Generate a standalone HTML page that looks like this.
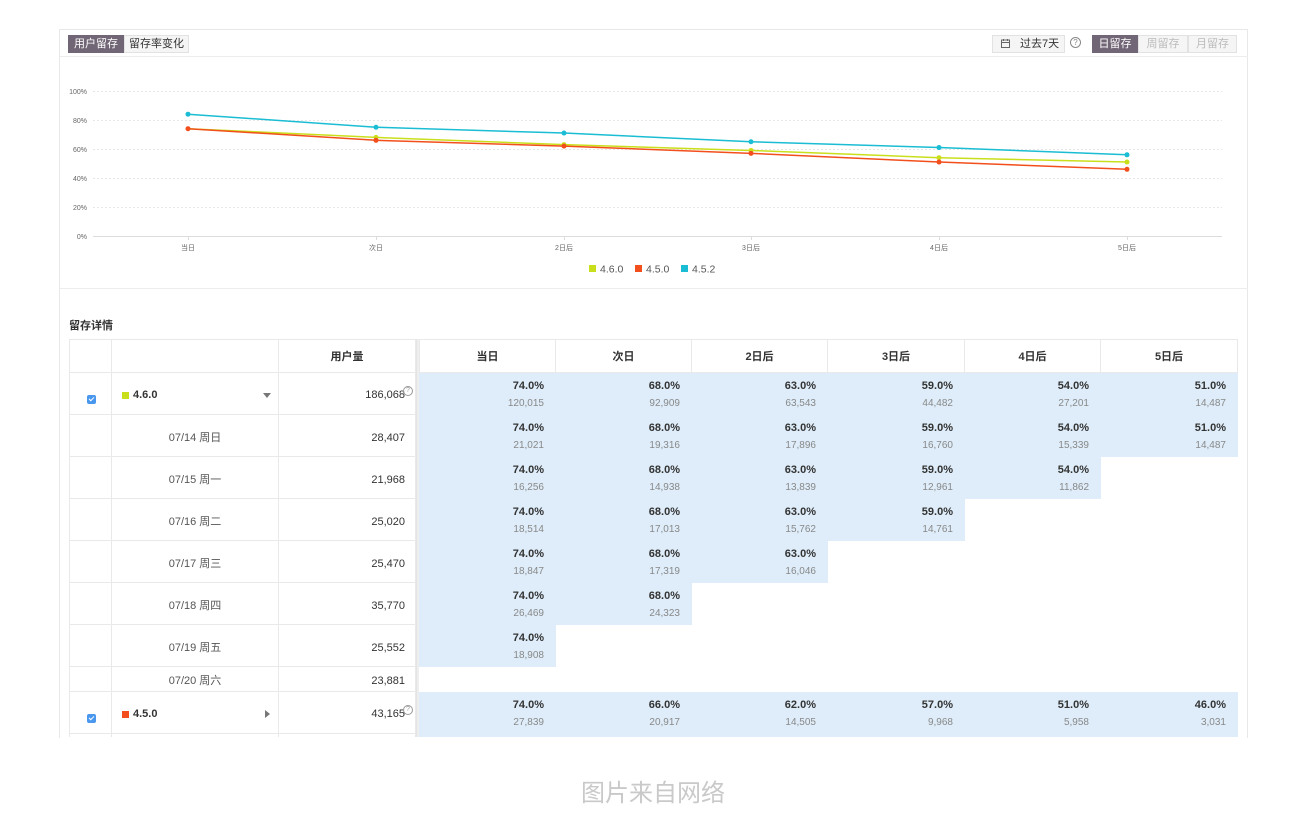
<!DOCTYPE html>
<html><head><meta charset="utf-8">
<style>
*{margin:0;padding:0;box-sizing:border-box}
body{width:1302px;height:815px;background:#fff;position:relative;overflow:hidden;font-family:"Liberation Sans","Noto Sans CJK SC",sans-serif;color:#333}
.a{position:absolute}
.btn{position:absolute;top:35px;height:18px;font-size:11px;line-height:17px;text-align:center;border:1px solid #e2e2e2;background:#f5f5f5;color:#333}
.on{background:#716675;border-color:#716675;color:#fff}
.gr{color:#bbb}
.L{position:absolute;border-right:1px solid #e9e9e9;border-bottom:1px solid #e9e9e9;font-size:11px;color:#333}
.h{position:absolute;top:339px;height:34px;border-right:1px solid #e9e9e9;border-bottom:1px solid #e9e9e9;border-top:1px solid #e9e9e9;font-size:11px;font-weight:bold;line-height:34px;text-align:center;color:#333}
.d{position:absolute;height:42px;background:#deedf9}
.d b{position:absolute;right:12px;top:6px;font-size:11px;line-height:14px;font-weight:bold;color:#333}
.d i{position:absolute;right:12px;top:24px;font-size:10px;line-height:14px;font-style:normal;color:#888}
.num{position:absolute;right:10px;font-size:11px;color:#333}
.dt{position:absolute;left:0;width:100%;text-align:center;font-size:11px;color:#555}
.q{position:absolute;width:10px;height:10px;border:1px solid #999;border-radius:50%;font-size:7px;line-height:8px;text-align:center;color:#999}
.cb{position:absolute;left:18px;width:9px;height:9px;background:#4a97ee;border-radius:2px}
.cb:after{content:"";position:absolute;left:2px;top:2px;width:4px;height:2px;border-left:1px solid #fff;border-bottom:1px solid #fff;transform:rotate(-45deg)}
</style></head><body>

<div class="a" style="left:59px;top:29px;width:1189px;height:709px;border:1px solid #e8e8e8;border-bottom:none"></div>
<div class="a" style="left:59px;top:56px;width:1189px;height:1px;background:#ececec"></div>
<div class="a" style="left:59px;top:288px;width:1189px;height:1px;background:#ececec"></div>

<div class="btn on" style="left:68px;width:56px">用户留存</div>
<div class="btn" style="left:124px;width:65px">留存率变化</div>

<div class="btn" style="left:992px;width:73px;text-align:left;padding-left:27px">过去7天</div>
<svg class="a" style="left:1000px;top:38px" width="11" height="11" viewBox="0 0 11 11"><rect x="1.5" y="2" width="8" height="7.5" fill="none" stroke="#666" stroke-width="1"/><line x1="1.5" y1="4.5" x2="9.5" y2="4.5" stroke="#666"/><line x1="3.5" y1="1" x2="3.5" y2="3" stroke="#666"/><line x1="7.5" y1="1" x2="7.5" y2="3" stroke="#666"/></svg>
<div class="q" style="left:1070px;top:37px;width:11px;height:11px;line-height:9px;font-size:8px;color:#888;border-color:#888">?</div>
<div class="btn on" style="left:1092px;width:46px">日留存</div>
<div class="btn gr" style="left:1138px;width:50px">周留存</div>
<div class="btn gr" style="left:1188px;width:49px">月留存</div>

<svg class="a" style="left:0;top:0" width="1302" height="290">
<g stroke="#e6e6e6" stroke-width="1" stroke-dasharray="2,2">
<line x1="93" y1="91.5" x2="1222" y2="91.5"/>
<line x1="93" y1="120.5" x2="1222" y2="120.5"/>
<line x1="93" y1="149.5" x2="1222" y2="149.5"/>
<line x1="93" y1="178.5" x2="1222" y2="178.5"/>
<line x1="93" y1="207.5" x2="1222" y2="207.5"/>
</g>
<line x1="93" y1="236.5" x2="1222" y2="236.5" stroke="#dcdcdc"/>
<g stroke="#dcdcdc"><line x1="188.5" y1="236" x2="188.5" y2="240"/><line x1="376.5" y1="236" x2="376.5" y2="240"/><line x1="564.5" y1="236" x2="564.5" y2="240"/><line x1="751.5" y1="236" x2="751.5" y2="240"/><line x1="939.5" y1="236" x2="939.5" y2="240"/><line x1="1127.5" y1="236" x2="1127.5" y2="240"/></g>
<g font-family="Liberation Sans, Noto Sans CJK SC, sans-serif" font-size="7" fill="#666" text-anchor="end">
<text x="87" y="94">100%</text><text x="87" y="123">80%</text><text x="87" y="152">60%</text><text x="87" y="181">40%</text><text x="87" y="210">20%</text><text x="87" y="239">0%</text>
</g>
<g font-family="Liberation Sans, Noto Sans CJK SC, sans-serif" font-size="7" fill="#666" text-anchor="middle">
<text x="188" y="250">当日</text><text x="376" y="250">次日</text><text x="564" y="250">2日后</text><text x="751" y="250">3日后</text><text x="939" y="250">4日后</text><text x="1127" y="250">5日后</text>
</g>
<polyline fill="none" stroke="#cadf1b" stroke-width="1.5" points="188,128.7 376,137.4 564,144.65 751,150.45 939,157.7 1127,162.05"/>
<polyline fill="none" stroke="#f24f1c" stroke-width="1.5" points="188,128.7 376,140.3 564,146.1 751,153.35 939,162.05 1127,169.3"/>
<polyline fill="none" stroke="#1abdd3" stroke-width="1.5" points="188,114.2 376,127.25 564,133.05 751,141.75 939,147.55 1127,154.8"/>
<g fill="#cadf1b"><circle cx="376" cy="137.4" r="2.5"/><circle cx="564" cy="144.65" r="2.5"/><circle cx="751" cy="150.45" r="2.5"/><circle cx="939" cy="157.7" r="2.5"/><circle cx="1127" cy="162.05" r="2.5"/></g>
<g fill="#f24f1c"><circle cx="188" cy="128.7" r="2.5"/><circle cx="376" cy="140.3" r="2.5"/><circle cx="564" cy="146.1" r="2.5"/><circle cx="751" cy="153.35" r="2.5"/><circle cx="939" cy="162.05" r="2.5"/><circle cx="1127" cy="169.3" r="2.5"/></g>
<g fill="#1abdd3"><circle cx="188" cy="114.2" r="2.5"/><circle cx="376" cy="127.25" r="2.5"/><circle cx="564" cy="133.05" r="2.5"/><circle cx="751" cy="141.75" r="2.5"/><circle cx="939" cy="147.55" r="2.5"/><circle cx="1127" cy="154.8" r="2.5"/></g>
<rect x="589" y="265" width="7" height="7" fill="#cadf1b"/>
<rect x="635" y="265" width="7" height="7" fill="#f24f1c"/>
<rect x="681" y="265" width="7" height="7" fill="#1abdd3"/>
<g font-family="Liberation Sans, sans-serif" font-size="10.5" fill="#555">
<text x="600" y="272.5">4.6.0</text><text x="646" y="272.5">4.5.0</text><text x="692" y="272.5">4.5.2</text>
</g>
</svg>

<div class="a" style="left:69px;top:319px;font-size:11px;font-weight:bold;color:#333;line-height:14px">留存详情</div>

<div class="a" style="left:0;top:0;width:1302px;height:737px;overflow:hidden">
<div class="a" style="left:69px;top:339px;width:1px;height:400px;background:#e9e9e9"></div>
<div class="a" style="left:416px;top:339px;width:3px;height:400px;background:#eeeeee;border-left:1px solid #e4e4e4"></div>

<div class="h" style="left:69px;width:43px;border-left:1px solid #e9e9e9"></div>
<div class="h" style="left:112px;width:167px"></div>
<div class="h" style="left:279px;width:137px">用户量</div>
<div class="h" style="left:419px;width:137px;border-left:1px solid #e9e9e9">当日</div>
<div class="h" style="left:556px;width:136px">次日</div>
<div class="h" style="left:692px;width:136px">2日后</div>
<div class="h" style="left:828px;width:137px">3日后</div>
<div class="h" style="left:965px;width:136px">4日后</div>
<div class="h" style="left:1101px;width:137px">5日后</div>

<div class="L" style="left:69px;top:373px;width:43px;height:42px"><div class="cb" style="top:22px"></div></div>
<div class="L" style="left:112px;top:373px;width:167px;height:42px">
<div class="a" style="left:10px;top:19px;width:7px;height:7px;background:#cadf1b"></div>
<div class="a" style="left:21px;top:15px;font-weight:bold;font-size:11px;line-height:14px">4.6.0</div>
<div class="a" style="left:151px;top:20px;width:0;height:0;border-left:4px solid transparent;border-right:4px solid transparent;border-top:5px solid #777"></div>
</div>
<div class="L" style="left:279px;top:373px;width:137px;height:42px"><div class="num" style="right:10px;top:15px;line-height:14px">186,068</div><div class="q" style="left:124px;top:13px">?</div></div>

<div class="L" style="left:69px;top:415px;width:43px;height:42px"></div>
<div class="L" style="left:112px;top:415px;width:167px;height:42px"><div class="dt" style="top:16px;line-height:14px">07/14 周日</div></div>
<div class="L" style="left:279px;top:415px;width:137px;height:42px"><div class="num" style="top:16px;line-height:14px">28,407</div></div>

<div class="L" style="left:69px;top:457px;width:43px;height:42px"></div>
<div class="L" style="left:112px;top:457px;width:167px;height:42px"><div class="dt" style="top:16px;line-height:14px">07/15 周一</div></div>
<div class="L" style="left:279px;top:457px;width:137px;height:42px"><div class="num" style="top:16px;line-height:14px">21,968</div></div>

<div class="L" style="left:69px;top:499px;width:43px;height:42px"></div>
<div class="L" style="left:112px;top:499px;width:167px;height:42px"><div class="dt" style="top:16px;line-height:14px">07/16 周二</div></div>
<div class="L" style="left:279px;top:499px;width:137px;height:42px"><div class="num" style="top:16px;line-height:14px">25,020</div></div>

<div class="L" style="left:69px;top:541px;width:43px;height:42px"></div>
<div class="L" style="left:112px;top:541px;width:167px;height:42px"><div class="dt" style="top:16px;line-height:14px">07/17 周三</div></div>
<div class="L" style="left:279px;top:541px;width:137px;height:42px"><div class="num" style="top:16px;line-height:14px">25,470</div></div>

<div class="L" style="left:69px;top:583px;width:43px;height:42px"></div>
<div class="L" style="left:112px;top:583px;width:167px;height:42px"><div class="dt" style="top:16px;line-height:14px">07/18 周四</div></div>
<div class="L" style="left:279px;top:583px;width:137px;height:42px"><div class="num" style="top:16px;line-height:14px">35,770</div></div>

<div class="L" style="left:69px;top:625px;width:43px;height:42px"></div>
<div class="L" style="left:112px;top:625px;width:167px;height:42px"><div class="dt" style="top:16px;line-height:14px">07/19 周五</div></div>
<div class="L" style="left:279px;top:625px;width:137px;height:42px"><div class="num" style="top:16px;line-height:14px">25,552</div></div>

<div class="L" style="left:69px;top:667px;width:43px;height:25px"></div>
<div class="L" style="left:112px;top:667px;width:167px;height:25px"><div class="dt" style="top:7px;line-height:14px">07/20 周六</div></div>
<div class="L" style="left:279px;top:667px;width:137px;height:25px"><div class="num" style="top:7px;line-height:14px">23,881</div></div>

<div class="L" style="left:69px;top:692px;width:43px;height:42px"><div class="cb" style="top:22px"></div></div>
<div class="L" style="left:112px;top:692px;width:167px;height:42px">
<div class="a" style="left:10px;top:19px;width:7px;height:7px;background:#f24f1c"></div>
<div class="a" style="left:21px;top:15px;font-weight:bold;font-size:11px;line-height:14px">4.5.0</div>
<div class="a" style="left:153px;top:18px;width:0;height:0;border-top:4px solid transparent;border-bottom:4px solid transparent;border-left:5px solid #777"></div>
</div>
<div class="L" style="left:279px;top:692px;width:137px;height:42px"><div class="num" style="top:15px;line-height:14px">43,165</div><div class="q" style="left:124px;top:13px">?</div></div>
<div class="L" style="left:69px;top:734px;width:43px;height:42px"></div>
<div class="L" style="left:112px;top:734px;width:167px;height:42px"></div>
<div class="L" style="left:279px;top:734px;width:137px;height:42px"></div>

<div class="d" style="left:419px;top:373px;width:137px"><b>74.0%</b><i>120,015</i></div>
<div class="d" style="left:556px;top:373px;width:136px"><b>68.0%</b><i>92,909</i></div>
<div class="d" style="left:692px;top:373px;width:136px"><b>63.0%</b><i>63,543</i></div>
<div class="d" style="left:828px;top:373px;width:137px"><b>59.0%</b><i>44,482</i></div>
<div class="d" style="left:965px;top:373px;width:136px"><b>54.0%</b><i>27,201</i></div>
<div class="d" style="left:1101px;top:373px;width:137px"><b>51.0%</b><i>14,487</i></div>
<div class="d" style="left:419px;top:415px;width:137px"><b>74.0%</b><i>21,021</i></div>
<div class="d" style="left:556px;top:415px;width:136px"><b>68.0%</b><i>19,316</i></div>
<div class="d" style="left:692px;top:415px;width:136px"><b>63.0%</b><i>17,896</i></div>
<div class="d" style="left:828px;top:415px;width:137px"><b>59.0%</b><i>16,760</i></div>
<div class="d" style="left:965px;top:415px;width:136px"><b>54.0%</b><i>15,339</i></div>
<div class="d" style="left:1101px;top:415px;width:137px"><b>51.0%</b><i>14,487</i></div>
<div class="d" style="left:419px;top:457px;width:137px"><b>74.0%</b><i>16,256</i></div>
<div class="d" style="left:556px;top:457px;width:136px"><b>68.0%</b><i>14,938</i></div>
<div class="d" style="left:692px;top:457px;width:136px"><b>63.0%</b><i>13,839</i></div>
<div class="d" style="left:828px;top:457px;width:137px"><b>59.0%</b><i>12,961</i></div>
<div class="d" style="left:965px;top:457px;width:136px"><b>54.0%</b><i>11,862</i></div>
<div class="d" style="left:419px;top:499px;width:137px"><b>74.0%</b><i>18,514</i></div>
<div class="d" style="left:556px;top:499px;width:136px"><b>68.0%</b><i>17,013</i></div>
<div class="d" style="left:692px;top:499px;width:136px"><b>63.0%</b><i>15,762</i></div>
<div class="d" style="left:828px;top:499px;width:137px"><b>59.0%</b><i>14,761</i></div>
<div class="d" style="left:419px;top:541px;width:137px"><b>74.0%</b><i>18,847</i></div>
<div class="d" style="left:556px;top:541px;width:136px"><b>68.0%</b><i>17,319</i></div>
<div class="d" style="left:692px;top:541px;width:136px"><b>63.0%</b><i>16,046</i></div>
<div class="d" style="left:419px;top:583px;width:137px"><b>74.0%</b><i>26,469</i></div>
<div class="d" style="left:556px;top:583px;width:136px"><b>68.0%</b><i>24,323</i></div>
<div class="d" style="left:419px;top:625px;width:137px"><b>74.0%</b><i>18,908</i></div>
<div class="d" style="left:419px;top:692px;width:137px"><b>74.0%</b><i>27,839</i></div>
<div class="d" style="left:556px;top:692px;width:136px"><b>66.0%</b><i>20,917</i></div>
<div class="d" style="left:692px;top:692px;width:136px"><b>62.0%</b><i>14,505</i></div>
<div class="d" style="left:828px;top:692px;width:137px"><b>57.0%</b><i>9,968</i></div>
<div class="d" style="left:965px;top:692px;width:136px"><b>51.0%</b><i>5,958</i></div>
<div class="d" style="left:1101px;top:692px;width:137px"><b>46.0%</b><i>3,031</i></div>
<div class="d" style="left:419px;top:734px;width:819px"></div>
</div>

<div class="a" style="left:0;top:779px;width:1306px;text-align:center;font-size:24px;line-height:30px;color:#c9c9c9">图片来自网络</div>

</body></html>
